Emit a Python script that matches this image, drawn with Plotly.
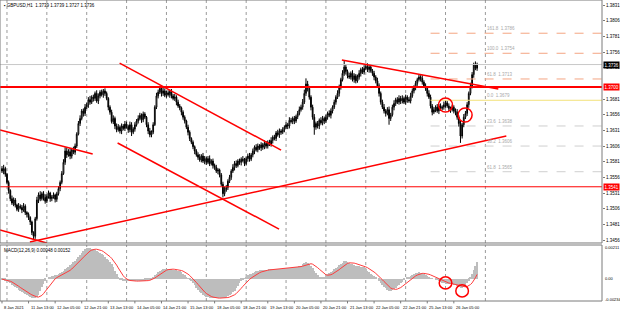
import plotly.graph_objects as go

# ---------------- data ----------------
TIME_LABELS = ["8 Jan 2021", "11 Jan 13:00", "12 Jan 05:00", "12 Jan 21:00", "13 Jan 13:00",
               "14 Jan 05:00", "14 Jan 21:00", "15 Jan 13:00", "18 Jan 05:00", "18 Jan 21:00",
               "19 Jan 13:00", "20 Jan 05:00", "20 Jan 21:00", "21 Jan 13:00", "22 Jan 05:00",
               "22 Jan 21:00", "25 Jan 13:00", "26 Jan 05:00"]
LABEL_STEP = 16          # bars between time labels
DAY_SEP_FIRST = 3        # first daily separator (11 Jan 00:00)
DAY_SEP_STEP = 24

# closes in pips above 1.3000 (hourly bars)
OPEN0 = 570
CLOSE_PIPS = [
    566, 570, 561, 548, 535, 522, 515, 520, 512, 505,
    510, 508, 504, 510, 500, 497, 492, 485, 468, 462,
    490, 520, 528, 522, 530, 524, 518, 526, 531, 522,
    525, 528, 521, 530, 538, 548, 562, 580, 598, 592,
    597, 590, 600, 596, 606, 625, 642, 650, 662, 658,
    668, 672, 680, 676, 684, 682, 690, 678, 686, 692,
    688, 694, 690, 682, 668, 660, 645, 650, 638, 632,
    636, 630, 638, 634, 641, 637, 632, 640, 628, 633,
    640, 646, 650, 655, 648, 657, 652, 640, 630, 624,
    628, 640, 668, 686, 692, 698, 690, 694, 687, 691,
    688, 693, 686, 682, 684, 676, 670, 667, 660, 652,
    646, 636, 628, 618, 612, 605, 598, 592, 588, 584,
    590, 582, 586, 580, 586, 578, 582, 575, 572, 566,
    568, 560, 545, 530, 536, 540, 550, 556, 566, 572,
    578, 575, 582, 580, 585, 583, 578, 586, 590, 585,
    592, 598, 604, 600, 606, 603, 608, 604, 610, 606,
    612, 609, 615, 620, 618, 627, 624, 630, 628, 632,
    636, 640, 638, 647, 645, 650, 646, 653, 658, 664,
    668, 676, 690, 705, 698, 684, 668, 652, 636, 642,
    638, 647, 643, 650, 646, 652, 658, 655, 662, 668,
    676, 684, 690, 700, 712, 722, 732, 725, 718, 716,
    722, 712, 718, 710, 716, 722, 728, 724, 730, 733,
    728, 732, 726, 722, 716, 710, 702, 690, 676, 668,
    662, 658, 664, 650, 656, 668, 674, 680, 676, 682,
    678, 682, 676, 684, 680, 678, 686, 694, 700, 706,
    712, 716, 714, 708, 702, 698, 690, 684, 670, 660,
    664, 668, 662, 670, 666, 668, 672, 675, 670, 666,
    664, 668, 662, 660, 652, 642, 622, 640, 652, 658,
    672, 690, 702, 720, 736, 730, 736,
]
UP_WICK = [
    4, 6, 3, 2, 3, 2, 5, 4, 3, 2,
    5, 3, 4, 5, 3, 2, 3, 2, 2, 2,
    3, 5, 4, 6, 3, 4, 5, 3, 4, 2,
    3, 4, 2, 3, 4, 3, 4, 5, 6, 5,
    4, 6, 3, 5, 4, 3, 4, 5, 3, 4,
    5, 3, 4, 6, 3, 4, 3, 5, 4, 3,
    4, 3, 4, 3, 2, 3, 4, 5, 3, 4,
    5, 3, 4, 3, 5, 4, 3, 5, 4, 3,
    4, 3, 5, 4, 3, 4, 3, 2, 4, 5,
    3, 4, 3, 5, 4, 4, 3, 5, 4, 3,
    4, 3, 4, 3, 5, 3, 4, 3, 2, 3,
    3, 2, 4, 3, 2, 3, 2, 3, 4, 5,
    3, 5, 4, 3, 4, 5, 3, 4, 3, 4,
    3, 2, 3, 4, 5, 4, 3, 4, 3, 5,
    4, 5, 3, 4, 3, 5, 4, 3, 4, 5,
    3, 4, 3, 5, 4, 3, 4, 3, 5, 4,
    3, 4, 5, 3, 4, 3, 5, 4, 3, 4,
    3, 4, 3, 5, 4, 3, 4, 3, 4, 5,
    4, 5, 6, 9, 5, 4, 3, 4, 5, 3,
    4, 3, 5, 4, 3, 4, 3, 5, 4, 3,
    4, 3, 5, 4, 3, 5, 11, 4, 3, 5,
    3, 5, 4, 3, 4, 5, 3, 4, 5, 4,
    5, 3, 4, 3, 4, 3, 5, 4, 3, 4,
    5, 3, 4, 5, 3, 4, 5, 3, 4, 5,
    4, 5, 3, 4, 3, 4, 5, 4, 3, 4,
    3, 4, 3, 5, 3, 4, 3, 5, 4, 3,
    4, 3, 5, 3, 4, 3, 5, 4, 3, 4,
    3, 4, 3, 4, 5, 3, 4, 3, 5, 4,
    4, 3, 5, 4, 3, 5, 3,
]
DN_WICK = [
    3, 5, 4, 3, 5, 4, 3, 5, 4, 3,
    4, 3, 5, 3, 4, 5, 4, 5, 4, 6,
    4, 3, 5, 4, 3, 5, 4, 3, 4, 5,
    4, 3, 5, 4, 3, 4, 3, 2, 4, 5,
    3, 5, 4, 3, 4, 3, 2, 4, 3, 5,
    4, 3, 5, 4, 3, 5, 4, 3, 5, 4,
    3, 5, 4, 3, 5, 4, 3, 4, 5, 4,
    3, 4, 5, 3, 4, 3, 5, 4, 6, 3,
    4, 3, 4, 3, 5, 4, 3, 4, 5, 4,
    4, 3, 2, 3, 4, 3, 5, 4, 3, 4,
    3, 5, 4, 3, 4, 5, 3, 4, 5, 4,
    4, 3, 5, 4, 3, 4, 5, 3, 4, 3,
    4, 3, 5, 4, 3, 4, 3, 5, 4, 3,
    5, 4, 3, 6, 4, 3, 4, 3, 4, 3,
    5, 4, 3, 4, 5, 3, 4, 3, 5, 4,
    3, 4, 5, 3, 4, 3, 5, 4, 3, 4,
    4, 3, 4, 5, 3, 4, 3, 5, 4, 3,
    4, 3, 5, 4, 3, 4, 5, 3, 4, 3,
    3, 4, 3, 4, 5, 4, 5, 4, 12, 4,
    4, 5, 3, 4, 5, 3, 4, 3, 5, 4,
    3, 4, 3, 5, 4, 3, 4, 5, 4, 3,
    4, 3, 5, 4, 3, 4, 5, 3, 4, 3,
    4, 5, 3, 4, 5, 4, 3, 5, 4, 3,
    4, 5, 3, 10, 4, 3, 5, 4, 3, 4,
    5, 4, 3, 4, 5, 3, 4, 3, 4, 5,
    4, 3, 5, 4, 3, 4, 5, 3, 4, 5,
    3, 4, 3, 5, 4, 3, 4, 5, 3, 4,
    5, 3, 4, 5, 4, 5, 11, 4, 4, 3,
    4, 5, 3, 4, 5, 3, 4,
]
# MACD main (histogram) and signal, in units of 1e-5
MACD_MAIN = [
    -5, -8, -12, -16, -20, -28, -38, -46, -55, -64,
    -72, -80, -88, -95, -102, -110, -116, -122, -128, -130,
    -128, -118, -105, -82, -55, -32, -12, 0, 8, 12,
    16, 20, 24, 28, 33, 38, 44, 52, 62, 72,
    80, 90, 100, 110, 120, 132, 145, 158, 170, 185,
    197, 207, 206, 204, 200, 196, 191, 186, 180, 174,
    166, 156, 145, 134, 122, 110, 96, 78, 55, 32,
    10, -2, -10, -14, -16, -17, -17, -16, -15, -14,
    -14, -15, -16, -16, -15, -14, -12, -10, -7, -2,
    5, 14, 24, 34, 44, 52, 58, 63, 66, 68,
    67, 65, 62, 60, 58, 57, 55, 50, 42, 34,
    25, 14, 4, -5, -15, -28, -42, -58, -72, -85,
    -95, -104, -112, -118, -122, -126, -128, -130, -130, -130,
    -129, -128, -128, -126, -124, -120, -116, -108, -100, -90,
    -80, -64, -45, -25, -12, -3, 5, 14, 22, 29,
    35, 40, 45, 50, 53, 56, 58, 59, 60, 61,
    61, 62, 62, 63, 64, 65, 66, 67, 68, 69,
    70, 71, 72, 73, 74, 75, 77, 79, 81, 84,
    88, 95, 104, 111, 108, 100, 88, 74, 55, 40,
    25, 15, 10, 11, 15, 22, 30, 38, 45, 52,
    62, 72, 80, 90, 100, 108, 117, 116, 112, 106,
    100, 95, 90, 87, 85, 83, 81, 79, 75, 67,
    55, 45, 34, 25, 17, 8, 0, -12, -26, -40,
    -52, -63, -73, -81, -80, -76, -70, -60, -50, -40,
    -30, -20, -10, 0, 6, 12, 18, 25, 31, 37,
    41, 43, 40, 36, 30, 24, 18, 10, 5, 2,
    0, -4, -8, -15, -20, -25, -28, -32, -34, -35,
    -35, -36, -38, -40, -46, -55, -64, -60, -55, -48,
    -30, -12, 10, 35, 60, 85, 110,
]
MACD_SIGNAL = [
    -2, -4, -6, -9, -12, -16, -21, -27, -34, -41,
    -49, -57, -65, -73, -80, -87, -94, -100, -106, -112,
    -117, -120, -121, -118, -110, -98, -84, -68, -52, -36,
    -22, -10, 0, 8, 14, 19, 24, 29, 35, 41,
    48, 56, 65, 75, 85, 96, 107, 119, 131, 143,
    155, 166, 176, 184, 190, 194, 196, 196, 194, 191,
    187, 181, 174, 166, 157, 147, 136, 123, 108, 91,
    72, 52, 34, 20, 8, -1, -7, -11, -13, -14,
    -15, -15, -15, -15, -15, -15, -14, -13, -12, -10,
    -6, -1, 5, 13, 21, 30, 38, 45, 52, 57,
    61, 63, 64, 64, 63, 62, 60, 58, 55, 51,
    46, 39, 31, 22, 12, 1, -11, -24, -37, -51,
    -64, -76, -87, -97, -105, -112, -117, -121, -124, -126,
    -127, -128, -128, -128, -127, -126, -124, -121, -117, -112,
    -106, -98, -88, -76, -63, -50, -37, -25, -14, -4,
    5, 13, 21, 28, 34, 40, 45, 49, 52, 55,
    57, 59, 60, 61, 62, 63, 64, 65, 66, 67,
    68, 69, 70, 71, 72, 73, 74, 75, 77, 79,
    81, 84, 88, 93, 97, 100, 100, 97, 91, 83,
    74, 64, 53, 43, 34, 27, 24, 24, 27, 32,
    38, 45, 53, 61, 70, 79, 88, 96, 102, 106,
    107, 106, 104, 101, 98, 94, 90, 86, 83, 79,
    74, 68, 61, 53, 45, 36, 27, 17, 6, -6,
    -18, -30, -42, -53, -61, -66, -69, -70, -68, -64,
    -58, -50, -41, -31, -21, -12, -3, 5, 12, 19,
    25, 30, 34, 36, 36, 35, 33, 30, 26, 21,
    16, 11, 5, -1, -7, -12, -17, -21, -25, -28,
    -30, -32, -34, -36, -38, -41, -45, -49, -52, -53,
    -51, -46, -38, -27, -12, 7, 29,
]

# price axis ticks (1.3706 is hidden behind the red level label in the original)
PRICE_TICKS = [1.3831, 1.3806, 1.3781, 1.3756, 1.3731, 1.3681, 1.3656, 1.3631,
               1.3606, 1.3581, 1.3556, 1.3531, 1.3506, 1.3481, 1.3456]
PRICE_RANGE = [1.34513, 1.38390]
MACD_RANGE = [-0.00147, 0.00224]
MACD_LABELS = [("0.00211", 0.00206), ("0.00", 0.0), ("-0.00234", -0.00135)]

# horizontal levels: (price, width, label)
H_LEVELS = [(1.3700, 2, "1.3700"), (1.3541, 1, "1.3541")]
BID = 1.3736
# trend lines: (bar0, price0, bar1, price1, width)
TRENDLINES = [
    (16.8, 1.34528, 303.6, 1.36219, 1.5),
    (-1.2, 1.36315, 54.6, 1.35932, 1.5),
    (-1.2, 1.34719, 27.0, 1.34512, 1.5),
    (70.8, 1.37384, 168.0, 1.35996, 1.5),
    (69.6, 1.36108, 166.8, 1.34735, 1.5),
    (204.6, 1.37432, 298.8, 1.36969, 1.5),
]
# fibonacci levels: (price, label, colour, dash)
FIB_START = 258
FIB_LEVELS = [
    (1.3786, "161.8  1.3786", "#F4A582", "dash"),
    (1.3754, "100.0  1.3754", "#F4A582", "dash"),
    (1.3713, "61.8  1.3713", "#F4A582", "dash"),
    (1.3679, "0.0  1.3679", "#F3E27A", "solid"),
    (1.3638, "23.6  1.3638", "#CFCFCF", "dash"),
    (1.3606, "38.2  1.3606", "#CFCFCF", "dash"),
    (1.3565, "61.8  1.3565", "#CFCFCF", "dash"),
]
PRICE_CIRCLES = [(267, 1.36715), (278.8, 1.36555)]
MACD_CIRCLES = [(267, -0.00027), (277, -0.00080)]

# ---------------- build ----------------
FONT = "Liberation Sans"
n = len(CLOSE_PIPS)
idx = list(range(n))
closes = [1.3 + c / 10000 for c in CLOSE_PIPS]
opens = [1.3 + OPEN0 / 10000] + closes[:-1]
highs = [max(o, c) + u / 10000 for o, c, u in zip(opens, closes, UP_WICK)]
lows = [min(o, c) - d / 10000 for o, c, d in zip(opens, closes, DN_WICK)]
macd = [v / 100000 for v in MACD_MAIN]
sig = [v / 100000 for v in MACD_SIGNAL]

XR = [-1.2, 361.2]
fig = go.Figure()
fig.add_trace(go.Candlestick(
    x=idx, open=opens, high=highs, low=lows, close=closes,
    increasing=dict(line=dict(color="black", width=1), fillcolor="white"),
    decreasing=dict(line=dict(color="black", width=1), fillcolor="black"),
    whiskerwidth=0, showlegend=False, xaxis="x", yaxis="y"))
fig.add_trace(go.Bar(x=idx, y=macd, marker=dict(color="#BDBDBD", line=dict(width=0)),
                     width=0.55, showlegend=False, xaxis="x2", yaxis="y2"))
fig.add_trace(go.Scatter(x=idx, y=sig, mode="lines", line=dict(color="#FF3B3B", width=1),
                         showlegend=False, xaxis="x2", yaxis="y2"))

shapes = []
annotations = []
GRID = "#9A9A9A"
# daily separators (both panels)
k = DAY_SEP_FIRST
while k <= n + 5:
    for yr, xr in (("y domain", "x"), ("y2 domain", "x2")):
        shapes.append(dict(type="line", xref=xr, yref=yr, x0=k, x1=k, y0=0, y1=1,
                           line=dict(color=GRID, width=1, dash="dot"), layer="below"))
    k += DAY_SEP_STEP

# bid line
shapes.append(dict(type="line", xref="x domain", yref="y", x0=0, x1=1, y0=BID, y1=BID,
                   line=dict(color="#C8C8C8", width=1)))
# fib levels
for p, txt, col, dash in FIB_LEVELS:
    shapes.append(dict(type="line", xref="x", yref="y", x0=FIB_START, x1=XR[1], y0=p, y1=p,
                       line=dict(color=col, width=1, dash=dash)))
    annotations.append(dict(x=FIB_START + 33, y=p, xref="x", yref="y", text=txt,
                            showarrow=False, xanchor="left", yanchor="bottom",
                            font=dict(size=4.5, color="#A8A8A8", family=FONT)))
# horizontal levels
for p, w, txt in H_LEVELS:
    shapes.append(dict(type="line", xref="x domain", yref="y", x0=0, x1=1, y0=p, y1=p,
                       line=dict(color="#FF0000", width=w)))
    annotations.append(dict(x=1, y=p, xref="paper", yref="y", text=txt, showarrow=False,
                            xanchor="left", yanchor="middle", bgcolor="#FF0000", xshift=1,
                            font=dict(size=4.5, color="white", family=FONT),
                            borderpad=0.5))
annotations.append(dict(x=1, y=BID, xref="paper", yref="y", text="1.3736", showarrow=False,
                        xanchor="left", yanchor="middle", bgcolor="black", borderpad=0.5, xshift=1,
                        font=dict(size=4.5, color="white", family=FONT)))
# trend lines
for x0, y0, x1, y1, w in TRENDLINES:
    shapes.append(dict(type="line", xref="x", yref="y", x0=x0, y0=y0, x1=x1, y1=y1,
                       line=dict(color="#FF0000", width=w)))
# circles
for cx, cy in PRICE_CIRCLES:
    shapes.append(dict(type="circle", xref="x", yref="y", x0=cx - 4.2, x1=cx + 4.2,
                       y0=cy - 0.00112, y1=cy + 0.00112, line=dict(color="#FF0000", width=1.5)))
for cx, cy in MACD_CIRCLES:
    shapes.append(dict(type="circle", xref="x2", yref="y2", x0=cx - 3.8, x1=cx + 3.8,
                       y0=cy - 0.0004, y1=cy + 0.0004, line=dict(color="#FF0000", width=1.5)))
# panel frames
for yr in ("y domain", "y2 domain"):
    shapes.append(dict(type="rect", xref="x domain", yref=yr, x0=0, x1=1, y0=0, y1=1,
                       line=dict(color="#7A7A7A", width=1)))

# time labels
for j, t in enumerate(TIME_LABELS):
    annotations.append(dict(x=j * LABEL_STEP, y=0, xref="x2", yref="paper", text=t,
                            showarrow=False, xanchor="left", yanchor="top", yshift=-1.5,
                            font=dict(size=4, color="black", family=FONT)))
    shapes.append(dict(type="line", xref="x2", yref="paper", x0=j * LABEL_STEP, x1=j * LABEL_STEP,
                       y0=0, y1=-0.008, line=dict(color="#7A7A7A", width=1)))
# MACD scale labels
for t, v in MACD_LABELS:
    annotations.append(dict(x=1, y=v, xref="paper", yref="y2", text=t, showarrow=False,
                            xanchor="left", yanchor="middle", xshift=0.5,
                            font=dict(size=4, color="black", family=FONT)))
# titles
annotations.append(dict(x=0.003, y=1, xref="paper", yref="paper", yshift=-1,
                        text="▪ GBPUSD,H1  1.3739 1.3739 1.3727 1.3736", showarrow=False,
                        xanchor="left", yanchor="top",
                        font=dict(size=4.5, color="black", family=FONT)))
annotations.append(dict(x=0.003, y=0.186, xref="paper", yref="paper", yshift=-1,
                        text="MACD(12,26,9) 0.00048 0.00152", showarrow=False,
                        xanchor="left", yanchor="top",
                        font=dict(size=4.5, color="black", family=FONT)))

fig.update_layout(
    width=620, height=312, margin=dict(l=0, r=16, t=0, b=11),
    paper_bgcolor="white", plot_bgcolor="white",
    shapes=shapes, annotations=annotations, bargap=0,
    xaxis=dict(domain=[0, 1], range=XR, anchor="y", showgrid=False, zeroline=False,
               showticklabels=False, rangeslider=dict(visible=False), fixedrange=True),
    yaxis=dict(domain=[0.1927, 1], range=PRICE_RANGE, side="right", showgrid=False,
               zeroline=False, tickvals=PRICE_TICKS, ticktext=[f"{v:.4f}" for v in PRICE_TICKS],
               ticks="outside", ticklen=2, tickcolor="#7A7A7A",
               tickfont=dict(size=4.5, color="black", family=FONT)),
    xaxis2=dict(domain=[0, 1], range=XR, anchor="y2", matches="x", showgrid=False,
                zeroline=False, showticklabels=False),
    yaxis2=dict(domain=[0, 0.186], range=MACD_RANGE, side="right", showgrid=False,
                zeroline=False, showticklabels=False),
)
fig.write_html("out.html")
